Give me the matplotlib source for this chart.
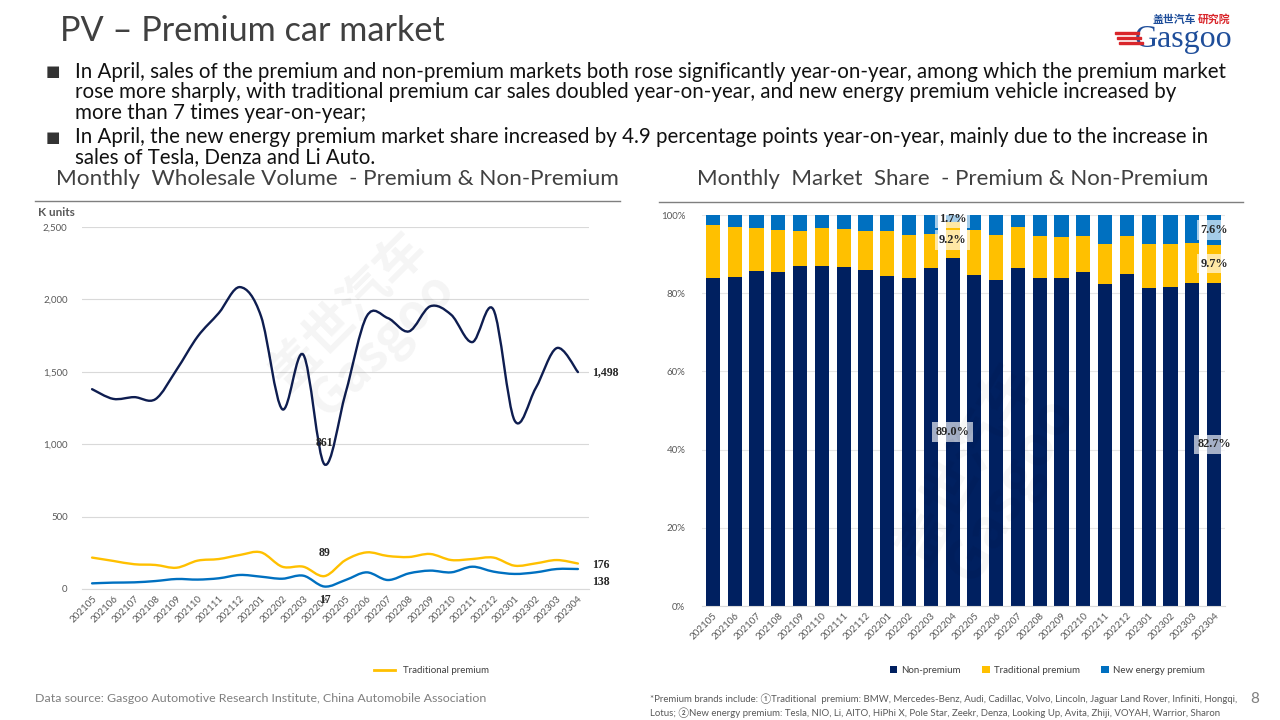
import numpy as np
import matplotlib
matplotlib.use("Agg")
from matplotlib import pyplot as plt
from matplotlib.path import Path
from matplotlib import patches

months = ["202105", "202106", "202107", "202108", "202109", "202110", "202111", "202112",
          "202201", "202202", "202203", "202204", "202205", "202206", "202207", "202208",
          "202209", "202210", "202211", "202212", "202301", "202302", "202303", "202304"]

# wholesale volume, K units
non_premium = [1380, 1313, 1325, 1311, 1514, 1744, 1906, 2085, 1883, 1242, 1618, 861,
               1353, 1883, 1871, 1779, 1952, 1894, 1705, 1929, 1164, 1387, 1664, 1498]
trad_premium = [217, 194, 171, 166, 147, 196, 207, 235, 253, 154, 154, 89,
                200, 253, 228, 221, 242, 200, 207, 217, 161, 177, 200, 176]
ne_premium = [39, 44, 46, 55, 69, 65, 74, 97, 85, 71, 92, 17,
              62, 115, 62, 108, 127, 115, 154, 120, 104, 115, 138, 138]

# market share, %
share_non = [83.9, 84.1, 85.7, 85.3, 87.0, 87.0, 86.7, 85.9, 84.4, 83.9, 86.4, 89.0,
             84.7, 83.4, 86.4, 83.9, 83.9, 85.5, 82.4, 84.9, 81.3, 81.6, 82.6, 82.7]
share_trad = [13.5, 12.9, 11.0, 10.9, 8.9, 9.7, 9.7, 10.0, 11.5, 11.1, 8.8, 9.2,
              11.5, 11.6, 10.6, 10.8, 10.6, 9.2, 10.3, 9.8, 11.4, 11.1, 10.3, 9.7]
share_ne = [2.6, 3.0, 3.3, 3.8, 4.1, 3.3, 3.6, 4.1, 4.1, 5.0, 4.8, 1.7,
            3.8, 5.0, 3.0, 5.3, 5.5, 5.3, 7.3, 5.3, 7.3, 7.3, 7.1, 7.6]

NAVY = "#002060"
LINE_NAVY = "#0E1D50"
YELLOW = "#FFC000"
BLUE = "#0070C0"
GRAY = "#404040"

plt.rcParams["font.family"] = ["Lato", "DejaVu Sans", "Noto Sans CJK SC"]

fig = plt.figure(figsize=(12.8, 7.2), dpi=100)


def smooth_line(ax, ys, color, lw=1.6):
    # Excel-style smoothed line: cubic bezier through the points
    xs = np.arange(len(ys), dtype=float)
    ys = np.asarray(ys, dtype=float)
    verts = [(xs[0], ys[0])]
    codes = [Path.MOVETO]
    n = len(ys)
    for i in range(n - 1):
        p0 = max(i - 1, 0)
        p3 = min(i + 2, n - 1)
        c1 = (xs[i] + (xs[i + 1] - xs[p0]) / 6, ys[i] + (ys[i + 1] - ys[p0]) / 6)
        c2 = (xs[i + 1] - (xs[p3] - xs[i]) / 6, ys[i + 1] - (ys[p3] - ys[i]) / 6)
        verts += [c1, c2, (xs[i + 1], ys[i + 1])]
        codes += [Path.CURVE4] * 3
    ax.add_patch(patches.PathPatch(Path(verts, codes), fill=False, edgecolor=color,
                                   lw=lw, capstyle="round", zorder=3))


# ---- header ----
fig.text(60 / 1280, 1 - 31 / 720, "PV – Premium car market", fontsize=24.7, color=GRAY,
         va="center", ha="left")
bullets = [
    "In April, sales of the premium and non-premium markets both rose significantly year-on-year, among which the premium market",
    "rose more sharply, with traditional premium car sales doubled year-on-year, and new energy premium vehicle increased by",
    "more than 7 times year-on-year;",
    "In April, the new energy premium market share increased by 4.9 percentage points year-on-year, mainly due to the increase in",
    "sales of Tesla, Denza and Li Auto.",
]
bullet_y = [72, 92.5, 113, 137, 157.5]
for i, (line, y) in enumerate(zip(bullets, bullet_y)):
    fig.text(75 / 1280, 1 - y / 720, line, fontsize=14.8, color="#111111", va="center", ha="left")
    if i in (0, 3):
        fig.text(46 / 1280, 1 - y / 720, "■", fontsize=11, color="#333333", va="center",
                 ha="left", family=["DejaVu Sans"])

# logo
fig.text(1153 / 1280, 1 - 20 / 720, "盖世汽车", fontsize=7.8, color="#1F4E9A", va="center",
         ha="left", family=["Noto Sans CJK SC"], weight="bold")
fig.text(1198 / 1280, 1 - 20 / 720, "研究院", fontsize=7.8, color="#D9262B", va="center",
         ha="left", family=["Noto Sans CJK SC"], weight="bold")
fig.text(1135 / 1280, 1 - 39 / 720, "Gasgoo", fontsize=23, color="#1F4E9A", va="center",
         ha="left", family=["Liberation Serif"])
for k in range(3):
    fig.patches.append(patches.Rectangle(((1115 + 2 * k) / 1280, 1 - (34 + 5 * k) / 720),
                                         24 / 1280, 2.5 / 720, transform=fig.transFigure,
                                         color="#D9262B", zorder=5))

# chart titles and rules
fig.text(56 / 1280, 1 - 179 / 720, "Monthly  Wholesale Volume  - Premium & Non-Premium",
         fontsize=16.2, color=GRAY, va="center", ha="left")
fig.text(697 / 1280, 1 - 179 / 720, "Monthly  Market  Share  - Premium & Non-Premium",
         fontsize=16, color=GRAY, va="center", ha="left")
fig.lines.append(plt.Line2D([35 / 1280, 620 / 1280], [1 - 201 / 720] * 2,
                            transform=fig.transFigure, color="#7F7F7F", lw=1))
fig.lines.append(plt.Line2D([659 / 1280, 1243 / 1280], [1 - 202 / 720] * 2,
                            transform=fig.transFigure, color="#7F7F7F", lw=1))

# ---- left: line chart ----
ax = fig.add_axes([81.5 / 1280, 1 - 589 / 720, 507 / 1280, 362 / 720])
x = np.arange(len(months))
smooth_line(ax, non_premium, LINE_NAVY, lw=1.7)
smooth_line(ax, trad_premium, YELLOW, lw=1.7)
smooth_line(ax, ne_premium, BLUE, lw=1.7)
ax.set_xlim(-0.5, len(months) - 0.5)
ax.set_ylim(0, 2500)
ax.set_yticks(np.arange(0, 2501, 500))
ax.set_yticklabels([f"{v:,}" for v in range(0, 2501, 500)])
ax.grid(axis="y", color="#D9D9D9", lw=0.8)
ax.set_axisbelow(True)
for s in ax.spines.values():
    s.set_visible(False)
ax.spines["bottom"].set_visible(True)
ax.spines["bottom"].set_color("#D9D9D9")
ax.tick_params(length=0, labelsize=7, colors="#595959")
ax.tick_params(axis="y", pad=10)
ax.set_xticks(x)
ax.set_xticklabels(months, rotation=45, ha="right", rotation_mode="anchor")
ax.text(-0.085, 1.04, "K units", transform=ax.transAxes, fontsize=8.5, color="#595959",
        weight="bold", ha="left", va="center")

lbl = dict(fontsize=8.5, weight="bold", color="#262626", family=["Liberation Serif"])
ax.annotate(f"{non_premium[-1]:,}", (x[-1], non_premium[-1]), xytext=(10, 0),
            textcoords="offset points", va="center", ha="left", **lbl)
ax.annotate(f"{trad_premium[-1]:,}", (x[-1], trad_premium[-1]), xytext=(10, -1),
            textcoords="offset points", va="center", ha="left", **lbl)
ax.annotate(f"{ne_premium[-1]:,}", (x[-1], ne_premium[-1]), xytext=(10, -9.5),
            textcoords="offset points", va="center", ha="left", **lbl)
ax.annotate(f"{non_premium[11]:,}", (x[11], non_premium[11]), xytext=(0, 15),
            textcoords="offset points", va="center", ha="center", **lbl)
ax.annotate(f"{trad_premium[11]:,}", (x[11], trad_premium[11]), xytext=(0, 17),
            textcoords="offset points", va="center", ha="center", **lbl)
ax.annotate(f"{ne_premium[11]:,}", (x[11], ne_premium[11]), xytext=(0, -10),
            textcoords="offset points", va="center", ha="center", **lbl)

ax.text(0.56, 0.72, "盖世汽车\nGasgoo", transform=ax.transAxes, fontsize=36, color="#000000",
        alpha=0.045, rotation=45, ha="center", va="center", family=["Noto Sans CJK SC"],
        weight="bold", linespacing=0.9)

ax.plot([], [], color=YELLOW, lw=2, label="Traditional premium")
ax.legend(loc="center", bbox_to_anchor=(0.69, -0.225), frameon=False, fontsize=7,
          handlelength=2.2, labelcolor="#404040")

# ---- right: 100% stacked bars ----
bx = fig.add_axes([702 / 1280, 1 - 606 / 720, 523 / 1280, 391 / 720])
w = 0.65
bottom2 = np.array(share_non)
bottom3 = bottom2 + np.array(share_trad)
bx.bar(x, share_non, width=w, color=NAVY, label="Non-premium")
bx.bar(x, share_trad, width=w, bottom=bottom2, color=YELLOW, label="Traditional premium")
bx.bar(x, share_ne, width=w, bottom=bottom3, color=BLUE, label="New energy premium")
bx.set_xlim(-0.5, len(months) - 0.5)
bx.set_ylim(0, 100)
bx.set_yticks(np.arange(0, 101, 20))
bx.set_yticklabels([f"{v}%" for v in range(0, 101, 20)])
bx.grid(axis="y", color="#E6E6E6", lw=0.8)
bx.set_axisbelow(True)
for s in bx.spines.values():
    s.set_visible(False)
bx.spines["bottom"].set_visible(True)
bx.spines["bottom"].set_color("#D9D9D9")
bx.tick_params(length=0, labelsize=7, colors="#595959")
bx.tick_params(axis="y", pad=12)
bx.set_xticks(x)
bx.set_xticklabels(months, rotation=45, ha="right", rotation_mode="anchor")

box = dict(boxstyle="square,pad=0.3", facecolor="white", alpha=0.65, edgecolor="none")
blbl = dict(fontsize=8.8, weight="bold", color="#262626", ha="center", va="center", bbox=box,
            family=["Liberation Serif"])
for i in (11, len(months) - 1):
    bx.text(x[i], share_non[i] / 2, f"{share_non[i]:.1f}%", **blbl)
    bx.text(x[i], bottom2[i] + share_trad[i] / 2, f"{share_trad[i]:.1f}%", **blbl)
    bx.text(x[i], bottom3[i] + share_ne[i] / 2, f"{share_ne[i]:.1f}%", **blbl)

bx.text(0.55, 0.33, "盖世汽车\nGasgoo", transform=bx.transAxes, fontsize=40, color="#000000",
        alpha=0.035, rotation=60, ha="center", va="center", family=["Noto Sans CJK SC"],
        weight="bold", linespacing=0.9)

bx.legend(loc="center", bbox_to_anchor=(0.66, -0.165), ncol=3, frameon=False, fontsize=7,
          handlelength=0.8, handleheight=0.8, columnspacing=2.2, handletextpad=0.4,
          labelcolor="#404040")

# ---- footer ----
fig.text(35 / 1280, 1 - 698 / 720,
         "Data source: Gasgoo Automotive Research Institute, China Automobile Association",
         fontsize=8.9, color="#7F7F7F", va="center", ha="left")
fig.text(650 / 1280, 1 - 699 / 720,
         "*Premium brands include: ①Traditional  premium: BMW, Mercedes-Benz, Audi, Cadillac, Volvo, "
         "Lincoln, Jaguar Land Rover, Infiniti, Hongqi,",
         fontsize=6.9, color="#595959", va="center", ha="left")
fig.text(650 / 1280, 1 - 713 / 720,
         "Lotus; ②New energy premium: Tesla, NIO, Li, AITO, HiPhi X, Pole Star, Zeekr, Denza, "
         "Looking Up, Avita, Zhiji, VOYAH, Warrior, Sharon",
         fontsize=6.9, color="#595959", va="center", ha="left")
fig.text(1255 / 1280, 1 - 699 / 720, "8", fontsize=11, color="#7F7F7F", va="center", ha="center")

fig.savefig("out.png", dpi=100)
